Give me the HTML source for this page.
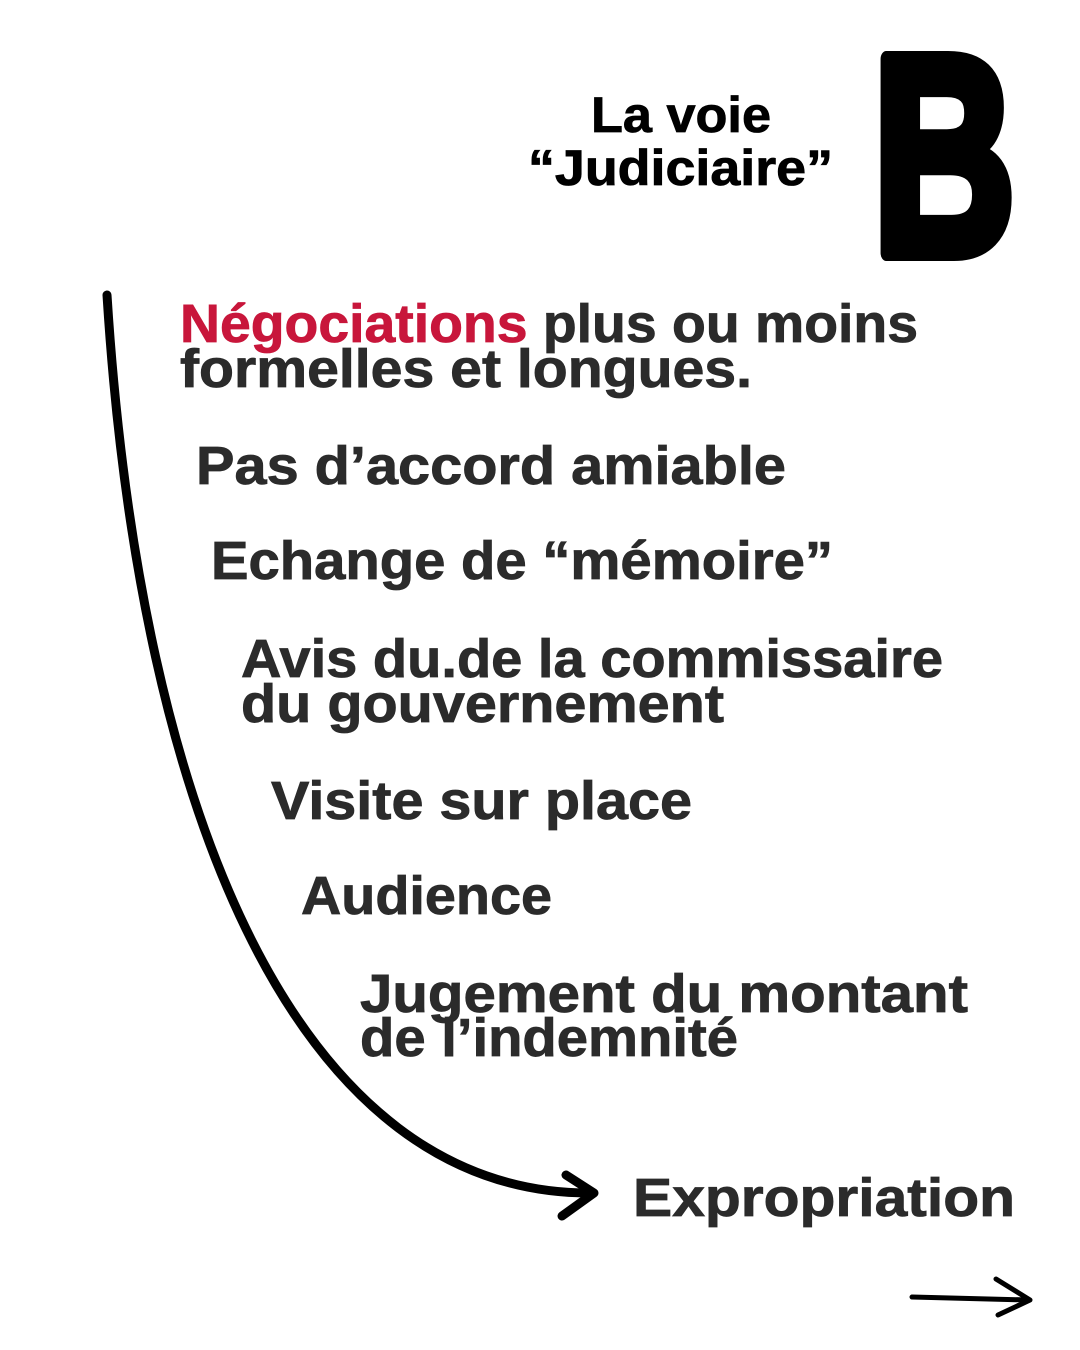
<!DOCTYPE html>
<html><head><meta charset="utf-8"><style>
html,body{margin:0;padding:0;background:#fff;}
svg{display:block;}
text{font-family:"Liberation Sans",sans-serif;font-weight:bold;}
</style></head><body>
<svg width="1080" height="1350" viewBox="0 0 1080 1350" xmlns="http://www.w3.org/2000/svg">
<rect width="1080" height="1350" fill="#fff"/>
<text x="591" y="132" font-size="50" fill="#000" stroke="#000" stroke-width="0.8" textLength="180" lengthAdjust="spacingAndGlyphs">La voie</text>
<text x="528" y="185" font-size="50" fill="#000" stroke="#000" stroke-width="0.8" textLength="305" lengthAdjust="spacingAndGlyphs">“Judiciaire”</text>
<text x="873" y="253" font-size="282" fill="#000" stroke="#000" stroke-width="16" stroke-linejoin="round" textLength="142" lengthAdjust="spacingAndGlyphs">B</text>
<g fill="#2b2b2b" stroke="#2b2b2b" stroke-width="0.8" font-size="54">
<text x="180" y="342" textLength="738" lengthAdjust="spacingAndGlyphs"><tspan fill="#c8163b" stroke="#c8163b">Négociations</tspan> plus ou moins</text>
<text x="180" y="387" textLength="572" lengthAdjust="spacingAndGlyphs">formelles et longues.</text>
<text x="196" y="484" textLength="590" lengthAdjust="spacingAndGlyphs">Pas d’accord amiable</text>
<text x="211" y="579" textLength="622" lengthAdjust="spacingAndGlyphs">Echange de “mémoire”</text>
<text x="241" y="677" textLength="702" lengthAdjust="spacingAndGlyphs">Avis du.de la commissaire</text>
<text x="241" y="722" textLength="483" lengthAdjust="spacingAndGlyphs">du gouvernement</text>
<text x="271" y="819" textLength="421" lengthAdjust="spacingAndGlyphs">Visite sur place</text>
<text x="301" y="914" textLength="251" lengthAdjust="spacingAndGlyphs">Audience</text>
<text x="360" y="1012" textLength="608" lengthAdjust="spacingAndGlyphs">Jugement du montant</text>
<text x="360" y="1056" textLength="378" lengthAdjust="spacingAndGlyphs">de l’indemnité</text>
<text x="633" y="1216" textLength="382" lengthAdjust="spacingAndGlyphs">Expropriation</text>
</g>
<path d="M107,295 C140,820 300,1196 593,1193" fill="none" stroke="#000" stroke-width="9" stroke-linecap="round"/>
<path d="M566,1175 L594,1193 L562,1216" fill="none" stroke="#000" stroke-width="9" stroke-linecap="round" stroke-linejoin="round"/>
<path d="M912,1297 L1029,1300" fill="none" stroke="#000" stroke-width="5" stroke-linecap="round"/>
<path d="M996,1279 L1030,1300 L998,1315" fill="none" stroke="#000" stroke-width="5" stroke-linecap="round" stroke-linejoin="round"/>
</svg>
</body></html>
